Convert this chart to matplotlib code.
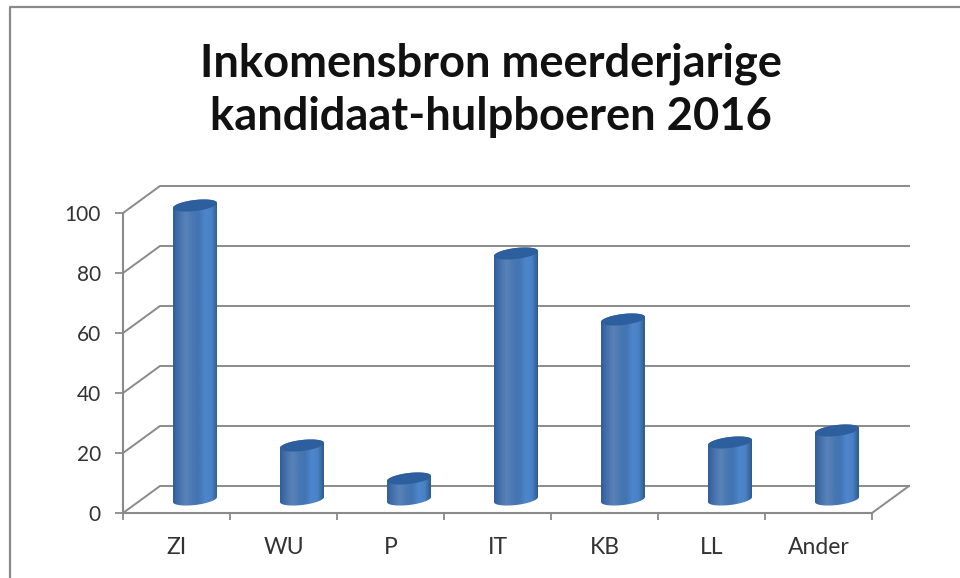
import numpy as np
import matplotlib
matplotlib.use("Agg")
import matplotlib.pyplot as plt
from matplotlib.colors import LinearSegmentedColormap
from matplotlib.lines import Line2D
from matplotlib.path import Path
from matplotlib.patches import PathPatch

categories = ["ZI", "WU", "P", "IT", "KB", "LL", "Ander"]
values = [98, 18, 7, 82, 60, 19, 23]
y_ticks = [0, 20, 40, 60, 80, 100]
title = "Inkomensbron meerderjarige\nkandidaat-hulpboeren 2016"

W, H = 960, 578
GRID = "#8a8a8a"
TXT = "#333333"
plt.rcParams["font.family"] = ["Lato", "DejaVu Sans"]

fig = plt.figure(figsize=(W / 100, H / 100), dpi=100, facecolor="white")
ax = fig.add_axes([0, 0, 1, 1])

# pixel anchors of the plot: category width 107 px, one value unit 3 px
x0_px, y0_px, cat_px, unit_px = 123, 513, 107, 3
ax.set_xlim(-x0_px / cat_px, (W - x0_px) / cat_px)
ax.set_ylim(-(H - y0_px) / unit_px, y0_px / unit_px)
n = len(categories)
dx, dy = 37 / cat_px, 27 / unit_px

# back wall and floor
for v in y_ticks:
    ax.plot([0, dx, n + dx], [v, v + dy, v + dy], color=GRID, lw=1.4, zorder=1,
            solid_joinstyle="miter")
ax.plot([n, n + dx], [0, dy], color=GRID, lw=1.4, zorder=1)

# axes
for s in ("top", "right"):
    ax.spines[s].set_visible(False)
ax.spines["left"].set_position(("data", 0))
ax.spines["bottom"].set_position(("data", 0))
ax.spines["left"].set_bounds(0, 100)
ax.spines["bottom"].set_bounds(0, n)
for s in ("left", "bottom"):
    ax.spines[s].set_color(GRID)
    ax.spines[s].set_linewidth(1.5)
ax.set_yticks(y_ticks)
ax.set_xticks(np.arange(n + 1))
ax.set_xticklabels([])
ax.set_xticks(np.arange(n) + 0.5, minor=True)
ax.set_xticklabels(categories, minor=True)
ax.tick_params(axis="y", direction="out", length=6, width=1.3, color=GRID,
               labelsize=15, labelcolor=TXT, pad=10)
ax.tick_params(axis="x", which="major", direction="out", length=5, width=1.3, color=GRID)
ax.tick_params(axis="x", which="minor", length=0, labelsize=16.5, labelcolor=TXT, pad=17)

# cylinders
cmap = LinearSegmentedColormap.from_list(
    "cyl", ["#2f5f98", "#4672ad", "#5a82b8", "#4a78b2", "#4274b2", "#4d86cc", "#4a82c6", "#2e5a8c"])
grad = np.linspace(0, 1, 256).reshape(1, -1)
half_w = 22 / cat_px
ry = 5.5 / unit_px
shear = 2.5 / unit_px
base = dy / 2
t = np.linspace(0, 2 * np.pi, 121)

for i, v in enumerate(values):
    cx = i + 0.5 + dx / 2
    top = base + v
    ex = cx + half_w * np.cos(t)
    esin = ry * np.sin(t)
    escew = shear * np.cos(t)
    # body outline: lower half of base ellipse, upper half of top ellipse
    lower = t >= np.pi
    upper = t <= np.pi
    verts = np.column_stack([np.r_[ex[lower], ex[upper]],
                             np.r_[base + esin[lower] + escew[lower],
                                   top + esin[upper] + escew[upper]]])
    clip = PathPatch(Path(verts), transform=ax.transData, fc="none", ec="none")
    ax.add_patch(clip)
    im = ax.imshow(grad, cmap=cmap, aspect="auto", zorder=3,
                   extent=[cx - half_w, cx + half_w, base - 4, top + 4])
    im.set_clip_path(clip)
    ax.fill(ex, top + esin + escew, color="#2d5f9e", zorder=4, lw=0)

ax.set_xlim(-x0_px / cat_px, (W - x0_px) / cat_px)
ax.set_ylim(-(H - y0_px) / unit_px, y0_px / unit_px)

# outer frame
fig.add_artist(Line2D([10 / W, 10 / W, 1], [0, 1 - 7 / H, 1 - 7 / H], color=GRID, lw=1.6,
                      transform=fig.transFigure))

fig.text(491 / W, 1 - 90 / H, title, ha="center", va="center", fontsize=32.6, fontweight="bold",
         color="#111111", linespacing=1.32)

fig.savefig("out.png", dpi=100)
